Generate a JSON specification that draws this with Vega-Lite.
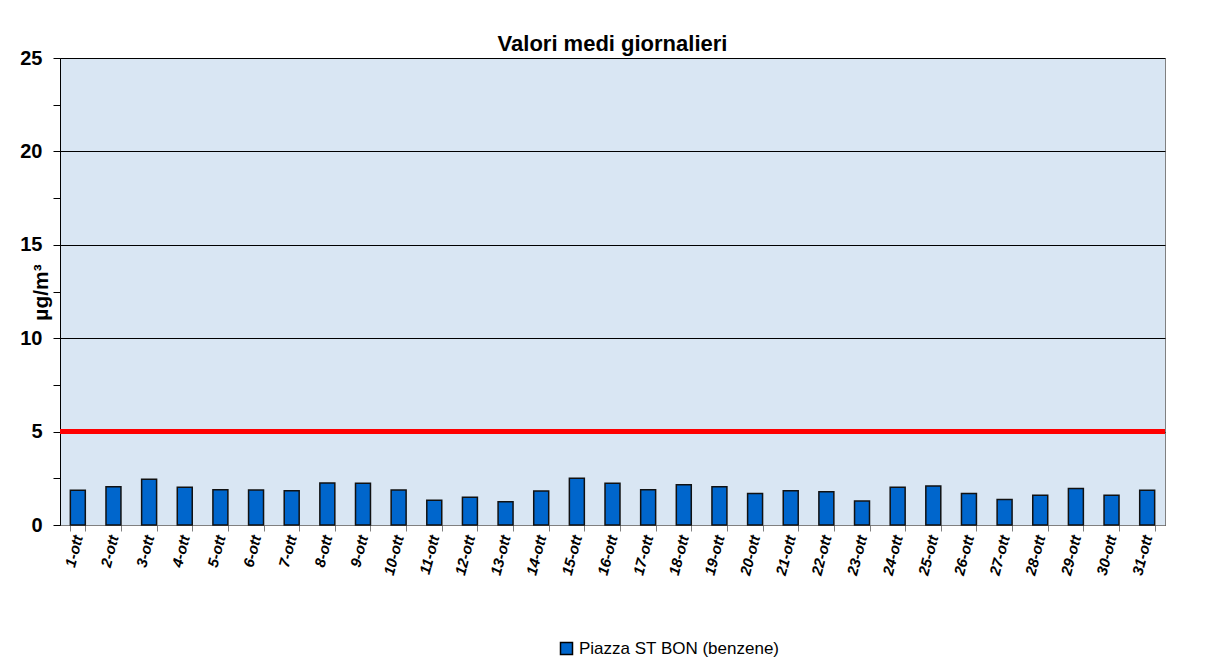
{
  "$schema": "https://vega.github.io/schema/vega-lite/v6.json",
  "width": 1105,
  "height": 467,
  "autosize": {"type": "none"},
  "padding": {"left": 60, "top": 58, "right": 52, "bottom": 139},
  "background": "white",
  "config": {
    "font": "Liberation Sans",
    "view": {"fill": "#d9e6f3", "stroke": "#808080", "strokeWidth": 1},
    "axis": {"domainColor": "black", "tickColor": "black"}
  },
  "title": {"text": "Valori medi giornalieri", "fontSize": 22, "fontWeight": "bold", "font": "Liberation Sans", "color": "black", "offset": -8},
  "data": {"values": [
    {"day": "1-ott", "v": 1.86, "s": "Piazza ST BON (benzene)"},
    {"day": "2-ott", "v": 2.05, "s": "Piazza ST BON (benzene)"},
    {"day": "3-ott", "v": 2.45, "s": "Piazza ST BON (benzene)"},
    {"day": "4-ott", "v": 2.02, "s": "Piazza ST BON (benzene)"},
    {"day": "5-ott", "v": 1.89, "s": "Piazza ST BON (benzene)"},
    {"day": "6-ott", "v": 1.87, "s": "Piazza ST BON (benzene)"},
    {"day": "7-ott", "v": 1.84, "s": "Piazza ST BON (benzene)"},
    {"day": "8-ott", "v": 2.25, "s": "Piazza ST BON (benzene)"},
    {"day": "9-ott", "v": 2.23, "s": "Piazza ST BON (benzene)"},
    {"day": "10-ott", "v": 1.87, "s": "Piazza ST BON (benzene)"},
    {"day": "11-ott", "v": 1.32, "s": "Piazza ST BON (benzene)"},
    {"day": "12-ott", "v": 1.48, "s": "Piazza ST BON (benzene)"},
    {"day": "13-ott", "v": 1.25, "s": "Piazza ST BON (benzene)"},
    {"day": "14-ott", "v": 1.82, "s": "Piazza ST BON (benzene)"},
    {"day": "15-ott", "v": 2.5, "s": "Piazza ST BON (benzene)"},
    {"day": "16-ott", "v": 2.23, "s": "Piazza ST BON (benzene)"},
    {"day": "17-ott", "v": 1.89, "s": "Piazza ST BON (benzene)"},
    {"day": "18-ott", "v": 2.16, "s": "Piazza ST BON (benzene)"},
    {"day": "19-ott", "v": 2.05, "s": "Piazza ST BON (benzene)"},
    {"day": "20-ott", "v": 1.68, "s": "Piazza ST BON (benzene)"},
    {"day": "21-ott", "v": 1.84, "s": "Piazza ST BON (benzene)"},
    {"day": "22-ott", "v": 1.78, "s": "Piazza ST BON (benzene)"},
    {"day": "23-ott", "v": 1.28, "s": "Piazza ST BON (benzene)"},
    {"day": "24-ott", "v": 2.02, "s": "Piazza ST BON (benzene)"},
    {"day": "25-ott", "v": 2.09, "s": "Piazza ST BON (benzene)"},
    {"day": "26-ott", "v": 1.68, "s": "Piazza ST BON (benzene)"},
    {"day": "27-ott", "v": 1.36, "s": "Piazza ST BON (benzene)"},
    {"day": "28-ott", "v": 1.59, "s": "Piazza ST BON (benzene)"},
    {"day": "29-ott", "v": 1.96, "s": "Piazza ST BON (benzene)"},
    {"day": "30-ott", "v": 1.59, "s": "Piazza ST BON (benzene)"},
    {"day": "31-ott", "v": 1.86, "s": "Piazza ST BON (benzene)"}
  ]},
  "layer": [
    {
      "mark": {"type": "bar", "stroke": "#111111", "strokeWidth": 1.5},
      "encoding": {
        "x": {
          "field": "day", "type": "nominal", "sort": null,
          "scale": {"paddingInner": 0.58, "paddingOuter": 0.29},
          "axis": {
            "title": null, "labelAngle": -75, "labelAlign": "right", "labelBaseline": "middle",
            "labelFont": "Liberation Sans", "labelFontSize": 15, "labelFontWeight": "bold", "labelFontStyle": "italic",
            "labelColor": "black", "tickBand": "extent", "tickSize": 6, "tickColor": "#808080", "domainColor": "#808080", "labelPadding": 4
          }
        },
        "y": {
          "field": "v", "type": "quantitative",
          "scale": {"domain": [0, 25], "nice": false},
          "axis": {
            "title": "µg/m³", "titleFontSize": 21, "titleFontWeight": "bold", "titleColor": "black",
            "titleX": -19, "titleY": 234, "titleAngle": -90, "titleAlign": "center", "titleBaseline": "middle",
            "values": [0, 2.5, 5, 7.5, 10, 12.5, 15, 17.5, 20, 22.5, 25],
            "labelExpr": "datum.value % 5 == 0 ? datum.label : ''",
            "labelFontSize": 20, "labelFontWeight": "bold", "labelColor": "black", "labelPadding": 11,
            "grid": true, "gridColor": "black", "gridWidth": 1,
            "gridOpacity": {"condition": {"test": "datum.value % 5 != 0", "value": 0}, "value": 1},
            "tickSize": 7
          }
        },
        "color": {
          "field": "s", "type": "nominal",
          "scale": {"range": ["#0066cc"]},
          "legend": {
            "title": null, "orient": "none", "legendX": 498, "legendY": 582,
            "symbolType": "square", "symbolSize": 144, "symbolStrokeColor": "black", "symbolStrokeWidth": 1.5,
            "labelFontSize": 17, "labelColor": "black", "labelFont": "Liberation Sans", "labelOffset": 4, "labelLimit": 500
          }
        }
      }
    },
    {
      "mark": {"type": "rule", "color": "#ff0000", "strokeWidth": 4},
      "encoding": {"y": {"datum": 5}}
    }
  ]
}
